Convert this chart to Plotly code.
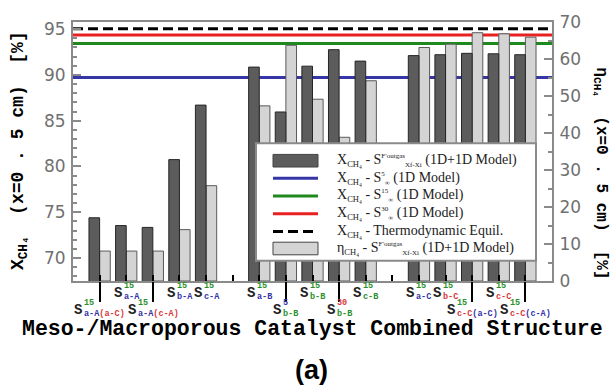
import plotly.graph_objects as go

# ---- data -------------------------------------------------------------
slots = list(range(17))                       # category slots (5 and 11 are spacers)
x_ch4 = [74.4, 73.55, 73.35, 80.75, 86.7, None, 90.85, 85.95, 90.95, 92.75, 91.5,
         None, 92.1, 92.2, 92.35, 92.3, 92.2]          # X_CH4, 1D+1D model [%]
eta_ch4 = [8.1, 8.1, 8.1, 13.9, 25.8, None, 47.4, 63.8, 49.2, 38.9, 54.2,
           None, 63.2, 64.1, 67.2, 66.9, 66.0]         # eta_CH4, 1D+1D model [%]
x_s5 = 89.7      # X_CH4, S^5 (1D model)
x_s15 = 93.42    # X_CH4, S^15 (1D model)
x_s30 = 94.34    # X_CH4, S^30 (1D model)
x_eq = 95.04     # X_CH4, thermodynamic equilibrium

GREEN, BLUE, RED = "#2a8f2a", "#3535a8", "#d83a3a"
# (slot, superscript, [(subscript part, colour)], row)
structure_labels = [
    (0, ("15", GREEN), [("a-A", BLUE), ("(a-C)", RED)], 1),
    (1, ("15", GREEN), [("a-A", BLUE)], 0),
    (2, ("15", GREEN), [("a-A", BLUE), ("(c-A)", RED)], 1),
    (3, ("15", GREEN), [("b-A", BLUE)], 0),
    (4, ("15", GREEN), [("c-A", BLUE)], 0),
    (6, ("15", GREEN), [("a-B", BLUE)], 0),
    (7, ("5", BLUE), [("b-B", GREEN)], 1),
    (8, ("15", GREEN), [("b-B", GREEN)], 0),
    (9, ("30", RED), [("b-B", GREEN)], 1),
    (10, ("15", GREEN), [("c-B", GREEN)], 0),
    (12, ("15", GREEN), [("a-C", BLUE)], 0),
    (13, ("15", GREEN), [("b-C", RED)], 0),
    (14, ("15", GREEN), [("c-C", RED), ("(a-C)", BLUE)], 1),
    (15, ("15", GREEN), [("c-C", RED)], 0),
    (16, ("15", GREEN), [("c-C", RED), ("(c-A)", BLUE)], 1),
]

# ---- geometry ---------------------------------------------------------
W, H = 614, 389
ML, MR, MT, MB = 73, 62, 14, 108
PW, PH = W - ML - MR, H - MT - MB
X_RANGE = [-1, 17]
Y_RANGE = [67.5, 95.77]
Y2_RANGE = [0, 70.1]


def px(xp):
    return (xp - ML) / PW


def py(yp):
    return (MT + PH - yp) / PH


AXIS_GRAY = "#8a8a8a"
TICK_FONT = dict(family="DejaVu Sans", size=17, color="#707070")
MONO = "Liberation Mono"
SERIF = "Liberation Serif"

fig = go.Figure()

# reference lines (1D model / equilibrium) on the base subplot, under the bars
line_specs = [
    (x_s5, BLUE, "solid"),
    (x_s15, "#1e8a1e", "solid"),
    (x_s30, "#e82020", "solid"),
    (x_eq, "black", "10px,5px"),
]
for val, col, dash in line_specs:
    fig.add_trace(go.Scatter(x=X_RANGE, y=[val, val], mode="lines",
                             line=dict(color=col, width=3, dash=dash),
                             xaxis="x", yaxis="y", showlegend=False,
                             hoverinfo="skip"))

# eta bars on the right axis
fig.add_trace(go.Bar(x=slots, y=eta_ch4, width=0.4, offset=0.0,
                     marker=dict(color="#d4d4d4", line=dict(color="#5a5a5a", width=1)),
                     xaxis="x", yaxis="y2", showlegend=False))
# X_CH4 bars on an overlay copy of the left axis
fig.add_trace(go.Bar(x=slots, y=x_ch4, width=0.4, offset=-0.4,
                     marker=dict(color="#5c5c5c", line=dict(color="#262626", width=1)),
                     xaxis="x", yaxis="y3", showlegend=False))

lower_slots = [s for s, _, _, r in structure_labels if r == 1]

fig.update_layout(
    width=W, height=H,
    margin=dict(l=ML, r=MR, t=MT, b=MB, pad=0),
    paper_bgcolor="white", plot_bgcolor="white",
    showlegend=False,
    xaxis=dict(range=X_RANGE, tickvals=slots, showticklabels=False,
               ticks="inside", ticklen=6, tickwidth=2, tickcolor="black",
               showline=True, linecolor=AXIS_GRAY, linewidth=2, mirror=True,
               showgrid=False, zeroline=False, layer="above traces"),
    xaxis2=dict(range=X_RANGE, overlaying="x", anchor="y", side="bottom",
                tickvals=lower_slots, showticklabels=False,
                ticks="outside", ticklen=20, tickwidth=2, tickcolor="black",
                showline=False, showgrid=False, zeroline=False),
    yaxis=dict(range=Y_RANGE, tickvals=[70, 75, 80, 85, 90, 95],
               ticks="inside", ticklen=8, tickwidth=1.5, tickcolor=AXIS_GRAY,
               minor=dict(dtick=1, ticks="inside", ticklen=4, tickcolor=AXIS_GRAY),
               tickfont=TICK_FONT, showline=True, linecolor=AXIS_GRAY, linewidth=2,
               showgrid=False, zeroline=False, ticklabelstandoff=2),
    yaxis2=dict(range=Y2_RANGE, overlaying="y", side="right", anchor="x",
                tickvals=[0, 10, 20, 30, 40, 50, 60, 70],
                ticks="inside", ticklen=8, tickwidth=1.5, tickcolor=AXIS_GRAY,
                minor=dict(dtick=5, ticks="inside", ticklen=4, tickcolor=AXIS_GRAY),
                tickfont=TICK_FONT, showline=True, linecolor=AXIS_GRAY, linewidth=2,
                showgrid=False, zeroline=False, ticklabelstandoff=2),
    yaxis3=dict(range=Y_RANGE, overlaying="y", anchor="x", visible=False),
)

# the phantom x-axis carries the long leader ticks; give it a dummy trace
fig.add_trace(go.Scatter(x=[None], y=[None], xaxis="x2", yaxis="y",
                         showlegend=False, hoverinfo="skip"))

annotations = []

# structure labels under the axis: "S" with stacked super/subscripts
S_SIZE, SS_SIZE = 14, 8.5
for slot, (sup, sup_col), sub_parts, row in structure_labels:
    sub_txt = "".join(t for t, _ in sub_parts)
    s_w = 0.6 * S_SIZE
    stack_w = 0.6 * SS_SIZE * max(len(sup), len(sub_txt))
    total = s_w + stack_w
    left = -total / 2
    s_shift = -11.5 if row == 0 else -28.5
    st_shift = -10 if row == 0 else -27
    annotations.append(dict(x=slot, xref="x", y=0, yref="paper", text="<b>S</b>",
                            showarrow=False, xanchor="right", yanchor="middle",
                            xshift=left + s_w, yshift=s_shift,
                            font=dict(family=MONO, size=S_SIZE, color="#222"),
                            borderpad=0))
    stack = (f"<span style='color:{sup_col}'><b>{sup}</b></span><br>" +
             "".join(f"<span style='color:{c}'><b>{t}</b></span>" for t, c in sub_parts))
    annotations.append(dict(x=slot, xref="x", y=0, yref="paper", text=stack,
                            showarrow=False, xanchor="left", yanchor="middle",
                            align="left", xshift=left + s_w, yshift=st_shift,
                            font=dict(family=MONO, size=SS_SIZE), borderpad=0))


def paper_text(x, y, text, font, **kw):
    d = dict(x=px(x), y=py(y), xref="paper", yref="paper", text=text,
             showarrow=False, xanchor="center", yanchor="middle", font=font)
    d.update(kw)
    return d


# axis titles
annotations.append(paper_text(19, 147, "<b>X<sub>CH₄</sub>  (x=0 . 5 cm)  [%]</b>",
                              dict(family=MONO, size=18, color="black"), textangle=-90))
annotations.append(paper_text(601, 170, "<b>η<sub>CH₄</sub>  (x=0 . 5 cm)  [%]</b>",
                              dict(family=MONO, size=16, color="black"), textangle=90))
annotations.append(paper_text(312, 330, "<b>Meso-/Macroporous Catalyst Combined Structure</b>",
                              dict(family=MONO, size=21.5, color="black")))
annotations.append(paper_text(311, 373, "<b>(a)</b>",
                              dict(family="Liberation Sans", size=27, color="black")))

# legend box
shapes = [dict(type="rect", xref="paper", yref="paper",
               x0=px(256), x1=px(536), y0=py(260), y1=py(139),
               line=dict(color=AXIS_GRAY, width=2), fillcolor="white",
               layer="above")]
tiny = "<span style='font-size:7px'>{}</span>"
s_model = ("S<sup>" + tiny.format("F′outgas") + "</sup><sub>" +
           tiny.format("Xf-Xi") + "</sub>")
s_inf = "S<sup>" + tiny.format("{}") + "</sup><sub>" + tiny.format("∞") + "</sub>"
ch4 = "<sub>" + "<span style='font-size:8.5px'>CH₄</span>" + "</sub>"
legend_rows = [
    ("bar", "#5c5c5c", None, "X" + ch4 + " - " + s_model + " (1D+1D Model)"),
    ("line", BLUE, "solid", "X" + ch4 + " - " + s_inf.format("5") + " (1D Model)"),
    ("line", "#1e8a1e", "solid", "X" + ch4 + " - " + s_inf.format("15") + " (1D Model)"),
    ("line", "#e82020", "solid", "X" + ch4 + " - " + s_inf.format("30") + " (1D Model)"),
    ("line", "black", "dash", "X" + ch4 + " - Thermodynamic Equil."),
    ("bar", "#d4d4d4", None, "η" + ch4 + " - " + s_model + " (1D+1D Model)"),
]
row_y = [157, 175, 193.3, 211.7, 230, 247.5]
for (kind, col, dash, label), ry in zip(legend_rows, row_y):
    if kind == "bar":
        shapes.append(dict(type="rect", xref="paper", yref="paper",
                           x0=px(273), x1=px(318), y0=py(ry + 6.5), y1=py(ry - 6.5),
                           line=dict(color="#444", width=1), fillcolor=col,
                           layer="above"))
    else:
        shapes.append(dict(type="line", xref="paper", yref="paper",
                           x0=px(273), x1=px(318), y0=py(ry), y1=py(ry),
                           line=dict(color=col, width=3,
                                     dash="solid" if dash == "solid" else "10px,5px"),
                           layer="above"))
    annotations.append(paper_text(335, ry, label,
                                  dict(family=SERIF, size=14, color="#222"),
                                  xanchor="left"))

fig.update_layout(annotations=annotations, shapes=shapes)
fig.write_html("out.html")
